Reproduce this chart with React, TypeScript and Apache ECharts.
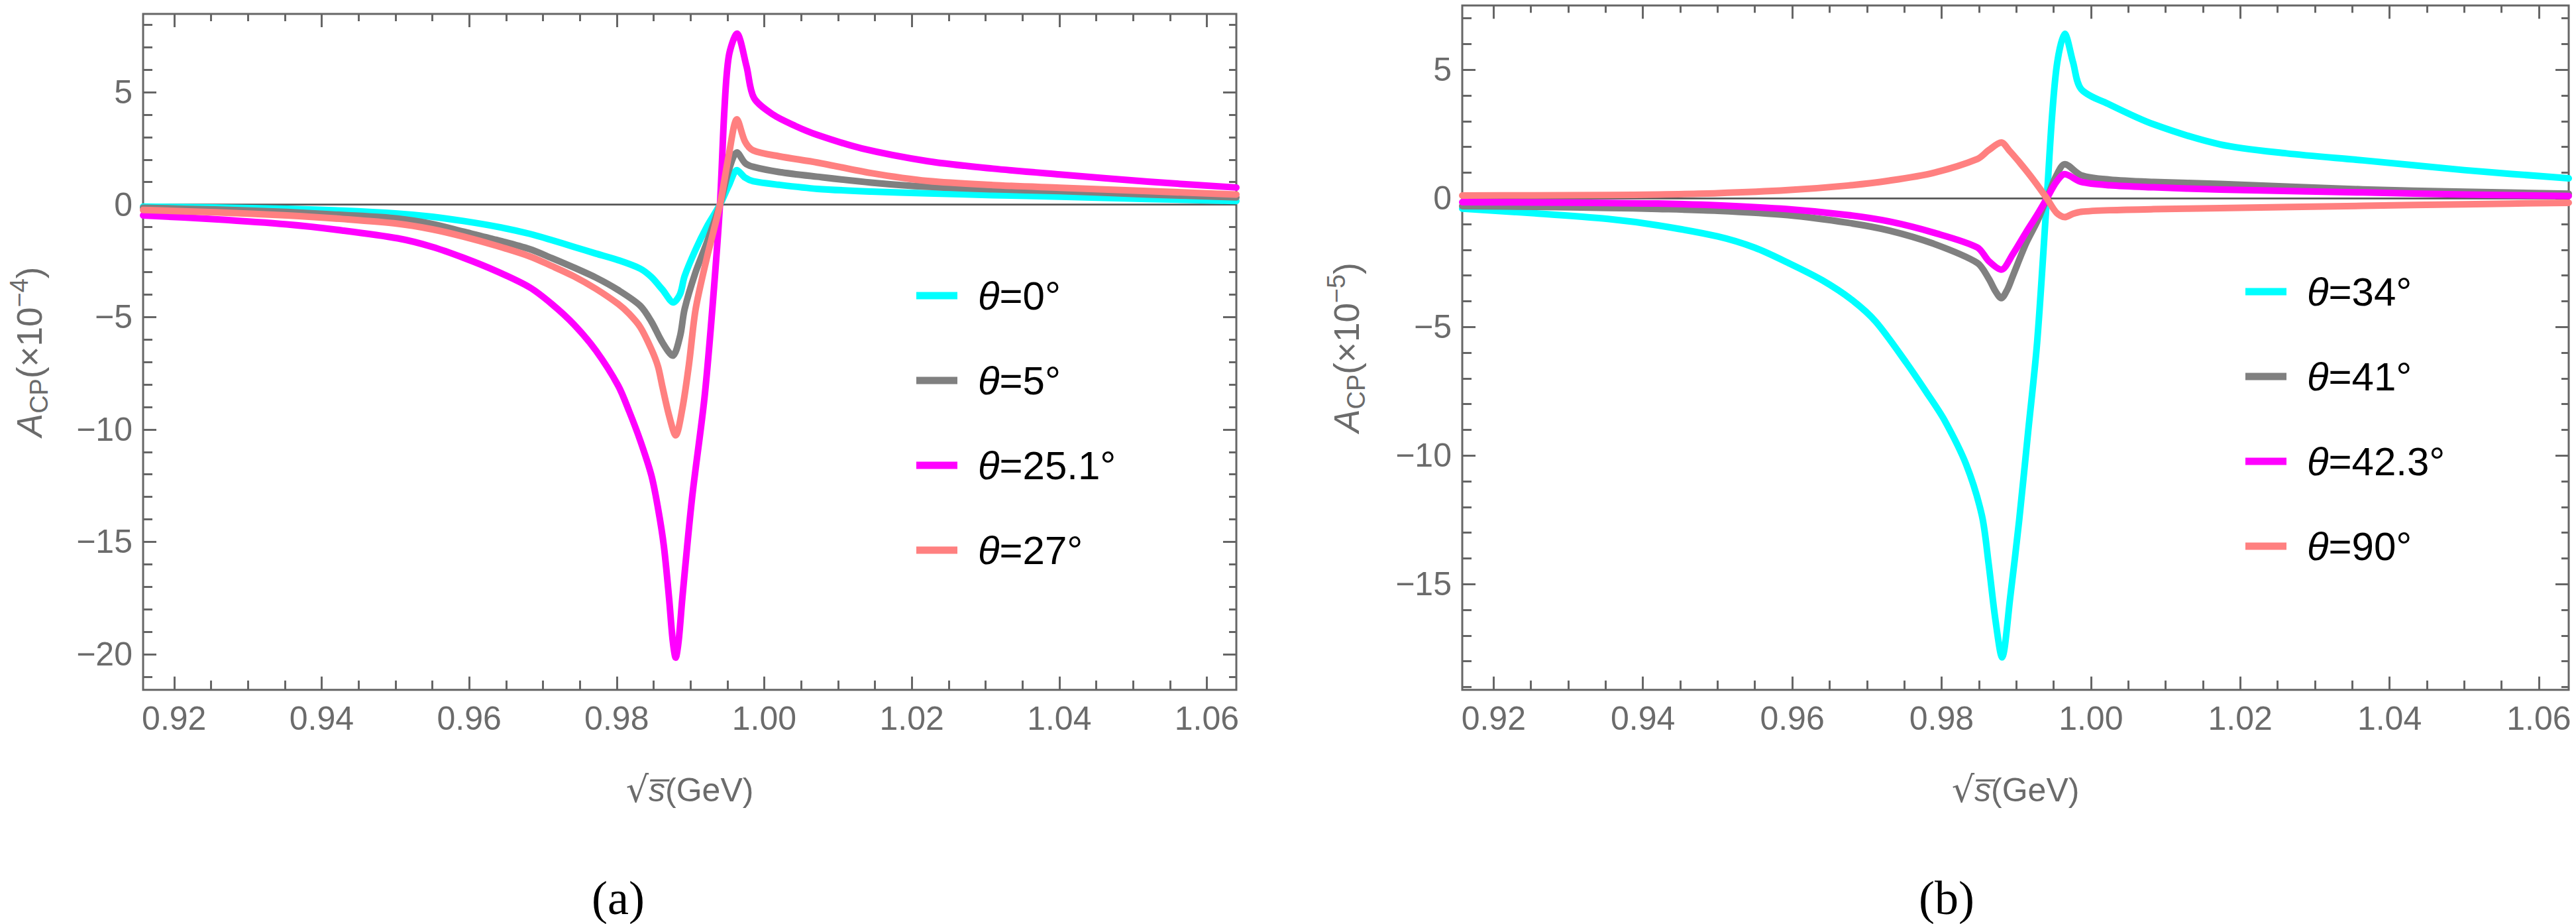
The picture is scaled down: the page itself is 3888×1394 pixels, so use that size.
import React, { useEffect, useRef } from "react";
import * as echarts from "echarts";

// ---------- axes ----------
const X_MIN = 0.9158;
const X_MAX = 1.064;
const X_MAJOR = [0.92, 0.94, 0.96, 0.98, 1.0, 1.02, 1.04, 1.06];
const X_MINOR_STEP = 0.005;

const YA_MIN = -21.58;
const YA_MAX = 8.48;
const YA_MAJOR = [-20, -15, -10, -5, 0, 5];
const YB_MIN = -19.11;
const YB_MAX = 7.5;
const YB_MAJOR = [-15, -10, -5, 0, 5];
const Y_MINOR_STEP = 1;

const COLORS = ["#00ffff", "#808080", "#ff00ff", "#ff8080"];
const NAMES_A = ["θ=0°", "θ=5°", "θ=25.1°", "θ=27°"];
const NAMES_B = ["θ=34°", "θ=41°", "θ=42.3°", "θ=90°"];

// ---------- panel (a): A_CP (x10^-4) ----------
const A0: number[][] = [
  [0.9158, -0.09], [0.9255, -0.13], [0.9353, -0.19], [0.9428, -0.27], [0.9503, -0.4],
  [0.955, -0.54], [0.9592, -0.73], [0.9637, -0.98], [0.9682, -1.3], [0.9712, -1.58],
  [0.9742, -1.88], [0.9772, -2.18], [0.9802, -2.47], [0.9832, -2.85], [0.9847, -3.22],
  [0.9862, -3.78], [0.9877, -4.35], [0.9886, -3.97], [0.9892, -3.19], [0.9907, -2.0],
  [0.9922, -1.0], [0.994, 0], [0.9952, 0.85], [0.9963, 1.53], [0.9974, 1.2],
  [0.9985, 1.04], [1.002, 0.88], [1.0072, 0.7], [1.0145, 0.58], [1.0222, 0.5],
  [1.031, 0.42], [1.0401, 0.35], [1.052, 0.25], [1.064, 0.16],
];
const A1: number[][] = [
  [0.9158, -0.14], [0.9255, -0.22], [0.9353, -0.33], [0.9428, -0.46], [0.9503, -0.62],
  [0.955, -0.86], [0.9592, -1.2], [0.9637, -1.57], [0.9682, -1.98], [0.9712, -2.38],
  [0.9742, -2.8], [0.9772, -3.25], [0.9802, -3.8], [0.9832, -4.5], [0.9847, -5.2],
  [0.9862, -6.13], [0.9876, -6.72], [0.9886, -5.84], [0.9892, -4.66], [0.9907, -3.0],
  [0.9922, -1.71], [0.994, 0], [0.9952, 1.53], [0.9963, 2.32], [0.9974, 1.85],
  [0.9985, 1.68], [1.002, 1.45], [1.0072, 1.24], [1.0145, 0.98], [1.0222, 0.79],
  [1.031, 0.68], [1.0401, 0.6], [1.052, 0.45], [1.064, 0.32],
];
const A2: number[][] = [
  [0.9158, -0.48], [0.9255, -0.65], [0.9353, -0.88], [0.9428, -1.15], [0.9503, -1.5],
  [0.955, -1.88], [0.9592, -2.36], [0.9637, -2.96], [0.9682, -3.68], [0.9712, -4.42],
  [0.9742, -5.33], [0.9772, -6.5], [0.9802, -8.05], [0.9817, -9.2], [0.9832, -10.5],
  [0.9847, -12.04], [0.9856, -13.5], [0.9864, -15.2], [0.9871, -17.5], [0.9876, -19.4],
  [0.988, -20.15], [0.9884, -19.4], [0.9889, -17.5], [0.9902, -13.1], [0.9919, -8.6],
  [0.993, -4.5], [0.994, 0], [0.9946, 4.2], [0.9952, 6.6], [0.9963, 7.6],
  [0.9976, 6.15], [0.9986, 4.75], [1.0012, 4.0], [1.0042, 3.5], [1.0072, 3.1],
  [1.0132, 2.5], [1.0222, 1.93], [1.031, 1.6], [1.0401, 1.34], [1.052, 1.02], [1.064, 0.76],
];
const A3: number[][] = [
  [0.9158, -0.24], [0.9255, -0.34], [0.9353, -0.48], [0.9428, -0.64], [0.9503, -0.85],
  [0.955, -1.1], [0.9592, -1.42], [0.9637, -1.83], [0.9682, -2.3], [0.9712, -2.73],
  [0.9742, -3.19], [0.9772, -3.75], [0.9802, -4.42], [0.9817, -4.86], [0.9832, -5.45],
  [0.9847, -6.43], [0.9856, -7.2], [0.9862, -8.1], [0.9871, -9.38], [0.988, -10.26],
  [0.9889, -9.08], [0.9898, -7.1], [0.9907, -4.66], [0.9922, -2.4], [0.994, 0],
  [0.9952, 2.2], [0.9963, 3.79], [0.9974, 2.8], [0.9985, 2.41], [1.002, 2.15],
  [1.0072, 1.87], [1.0145, 1.4], [1.0222, 1.05], [1.031, 0.87], [1.0401, 0.75],
  [1.052, 0.6], [1.064, 0.45],
];

// ---------- panel (b): A_CP (x10^-5) ----------
const B0: number[][] = [
  [0.9158, -0.4], [0.9255, -0.58], [0.9353, -0.8], [0.942, -1.05], [0.95, -1.48],
  [0.955, -1.92], [0.9594, -2.5], [0.964, -3.18], [0.968, -3.95], [0.9712, -4.8],
  [0.9753, -6.4], [0.978, -7.55], [0.9804, -8.63], [0.9833, -10.35], [0.9854, -12.33],
  [0.9863, -14.2], [0.9872, -16.36], [0.9881, -17.85], [0.9892, -15.5], [0.9904, -12.5],
  [0.9916, -9.06], [0.9928, -5.6], [0.9941, 0], [0.9948, 3.2], [0.9955, 5.3],
  [0.9965, 6.4], [0.9976, 5.3], [0.9987, 4.25], [1.0025, 3.65], [1.0084, 2.88],
  [1.0173, 2.1], [1.0262, 1.75], [1.0364, 1.48], [1.05, 1.1], [1.064, 0.78],
];
const B1: number[][] = [
  [0.9158, -0.3], [0.9255, -0.33], [0.9353, -0.37], [0.942, -0.41], [0.95, -0.48],
  [0.9594, -0.65], [0.9675, -0.95], [0.973, -1.25], [0.9789, -1.76], [0.9848, -2.51],
  [0.9863, -3.11], [0.9872, -3.6], [0.988, -3.88], [0.9888, -3.55], [0.9895, -3.05],
  [0.9913, -1.76], [0.9928, -0.9], [0.9941, 0], [0.9954, 0.9], [0.9965, 1.33],
  [0.9987, 0.9], [1.0025, 0.73], [1.0084, 0.64], [1.0173, 0.56], [1.0364, 0.35],
  [1.05, 0.26], [1.064, 0.18],
];
const B2: number[][] = [
  [0.9158, -0.15], [0.9255, -0.16], [0.9353, -0.18], [0.942, -0.2], [0.95, -0.27],
  [0.9594, -0.42], [0.9675, -0.65], [0.973, -0.9], [0.9789, -1.33], [0.9848, -1.91],
  [0.9863, -2.43], [0.988, -2.77], [0.9895, -2.19], [0.9913, -1.33], [0.9928, -0.64],
  [0.9941, 0], [0.9954, 0.65], [0.9965, 0.94], [0.9987, 0.64], [1.0025, 0.51],
  [1.0084, 0.43], [1.0173, 0.34], [1.0364, 0.23], [1.05, 0.15], [1.064, 0.09],
];
const B3: number[][] = [
  [0.9158, 0.11], [0.9255, 0.12], [0.9353, 0.13], [0.942, 0.15], [0.95, 0.2],
  [0.9594, 0.32], [0.9675, 0.5], [0.973, 0.69], [0.9789, 0.99], [0.9848, 1.53],
  [0.9863, 1.87], [0.988, 2.17], [0.9891, 1.85], [0.9907, 1.31], [0.9922, 0.76],
  [0.9941, 0], [0.9954, -0.56], [0.9965, -0.73], [0.9976, -0.6], [0.9987, -0.52],
  [1.0025, -0.46], [1.0084, -0.42], [1.0173, -0.38], [1.0364, -0.29], [1.05, -0.23],
  [1.064, -0.17],
];

const SERIES_A = [A0, A1, A2, A3];
const SERIES_B = [B0, B1, B2, B3];

// ---------- styling ----------
const FONT = '"Liberation Sans", Arial, sans-serif';
const FRAME = "#666666";
const LABEL = "#6b6b6b";

function minors(min: number, max: number, step: number, majors: number[]) {
  const out: number[] = [];
  const start = Math.ceil(min / step - 1e-9);
  const end = Math.floor(max / step + 1e-9);
  for (let k = start; k <= end; k++) {
    const v = +(k * step).toFixed(6);
    if (!majors.some((m) => Math.abs(m - v) < 1e-9)) out.push(v);
  }
  return out;
}

const fmtY = (v: number) => (v < 0 ? "\u2212" + Math.abs(v) : String(v));
const fmtX = (v: number) => v.toFixed(2);

const nameRich = {
  i: { fontStyle: "italic", fontSize: 53, lineHeight: 68, fontFamily: FONT, color: LABEL },
  n: { fontSize: 53, lineHeight: 68, fontFamily: FONT, color: LABEL },
  sub: { fontSize: 38, lineHeight: 44, verticalAlign: "bottom", fontFamily: FONT, color: LABEL },
  sup: { fontSize: 38, lineHeight: 44, verticalAlign: "top", fontFamily: FONT, color: LABEL },
  xi: { fontStyle: "italic", fontSize: 50, lineHeight: 64, fontFamily: FONT, color: LABEL },
  xn: { fontSize: 50, lineHeight: 64, fontFamily: FONT, color: LABEL },
  r: { fontSize: 54, lineHeight: 64, fontFamily: '"DejaVu Sans", sans-serif', color: LABEL },
};

function buildPanel(
  g: number,
  yMin: number,
  yMax: number,
  yMajor: number[],
  yName: string,
  yNameGap: number
) {
  const xMinor = minors(X_MIN, X_MAX, X_MINOR_STEP, X_MAJOR);
  const yMinor = minors(yMin, yMax, Y_MINOR_STEP, yMajor);
  const bx = {
    type: "value",
    gridIndex: g,
    min: X_MIN,
    max: X_MAX,
    splitLine: { show: false },
    axisLine: { show: false, onZero: false },
  };
  const by = {
    type: "value",
    gridIndex: g,
    min: yMin,
    max: yMax,
    splitLine: { show: false },
    axisLine: { show: false, onZero: false },
  };
  const tick = (len: number, vals: number[]) => ({
    show: true,
    inside: true,
    length: len,
    customValues: vals,
    lineStyle: { color: FRAME, width: 3 },
  });
  const noLabel = { show: false };
  const xAxes = [
    {
      ...bx,
      position: "bottom",
      axisTick: tick(20, X_MAJOR),
      axisLabel: {
        show: true,
        customValues: X_MAJOR,
        formatter: fmtX,
        fontSize: 50,
        fontFamily: FONT,
        color: LABEL,
        margin: 18,
      },
      name: "{r|\u221A}{xi|s\u0305}{xn|(GeV)}",
      nameLocation: "middle",
      nameGap: 119,
      nameTextStyle: { fontSize: 50, fontFamily: FONT, color: LABEL, rich: nameRich },
    },
    { ...bx, position: "bottom", axisTick: tick(14, xMinor), axisLabel: noLabel },
    { ...bx, position: "top", axisTick: tick(20, X_MAJOR), axisLabel: noLabel },
    { ...bx, position: "top", axisTick: tick(11, xMinor), axisLabel: noLabel },
  ];
  const yAxes = [
    {
      ...by,
      position: "left",
      axisTick: tick(20, yMajor),
      axisLabel: {
        show: true,
        customValues: yMajor,
        formatter: fmtY,
        fontSize: 50,
        fontFamily: FONT,
        color: LABEL,
        margin: 16,
      },
      name: yName,
      nameLocation: "middle",
      nameGap: yNameGap,
      nameTextStyle: { fontSize: 53, fontFamily: FONT, color: LABEL, rich: nameRich },
    },
    { ...by, position: "left", axisTick: tick(14, yMinor), axisLabel: noLabel },
    { ...by, position: "right", axisTick: tick(20, yMajor), axisLabel: noLabel },
    { ...by, position: "right", axisTick: tick(11, yMinor), axisLabel: noLabel },
  ];
  return { xAxes, yAxes };
}

function lineSeries(name: string, data: number[][], color: string, axisBase: number) {
  return {
    type: "line",
    name,
    data,
    xAxisIndex: axisBase,
    yAxisIndex: axisBase,
    showSymbol: false,
    symbol: "none",
    smooth: 0.3,
    color,
    lineStyle: { color, width: 10, cap: "round", join: "round" },
    itemStyle: { color },
    z: 3,
    silent: true,
  };
}

function zeroLine(axisBase: number) {
  return {
    type: "line",
    name: "zero",
    data: [
      [X_MIN, 0],
      [X_MAX, 0],
    ],
    xAxisIndex: axisBase,
    yAxisIndex: axisBase,
    showSymbol: false,
    symbol: "none",
    lineStyle: { color: "#555555", width: 2.7 },
    z: 2,
    silent: true,
  };
}

function legendFor(names: string[], left: number, top: number) {
  return {
    show: true,
    orient: "vertical",
    left,
    top,
    data: names,
    icon: "rect",
    itemWidth: 62,
    itemHeight: 11,
    itemGap: 58,
    selectedMode: false,
    formatter: (n: string) => n.replace("θ", "{it|θ}"),
    textStyle: {
      fontSize: 60,
      lineHeight: 70,
      fontFamily: FONT,
      color: "#000",
      padding: [0, 0, 0, 26],
      rich: {
        it: { fontSize: 60, lineHeight: 70, fontStyle: "italic", fontFamily: FONT, color: "#000" },
      },
    },
  };
}

export default function App() {
  const ref = useRef<HTMLDivElement>(null);
  useEffect(() => {
    if (!ref.current) return;
    const chart = echarts.init(ref.current, undefined, { renderer: "svg" });
    const pa = buildPanel(0, YA_MIN, YA_MAX, YA_MAJOR, "{i|A}{sub|CP}{n|(×10}{sup|\u22124}{n|)}", 138);
    const pb = buildPanel(1, YB_MIN, YB_MAX, YB_MAJOR, "{i|A}{sub|CP}{n|(×10}{sup|\u22125}{n|)}", 141);
    const option = {
      animation: false,
      backgroundColor: "#ffffff",
      grid: [
        {
          left: 216,
          top: 21,
          width: 1650,
          height: 1019.7,
          show: true,
          borderColor: FRAME,
          borderWidth: 3,
          backgroundColor: "transparent",
          containLabel: false,
          outerBoundsMode: "none",
        },
        {
          left: 2207,
          top: 8.3,
          width: 1670,
          height: 1032.4,
          show: true,
          borderColor: FRAME,
          borderWidth: 3,
          backgroundColor: "transparent",
          containLabel: false,
          outerBoundsMode: "none",
        },
      ],
      xAxis: [...pa.xAxes, ...pb.xAxes],
      yAxis: [...pa.yAxes, ...pb.yAxes],
      legend: [legendFor(NAMES_A, 1378, 406), legendFor(NAMES_B, 3384, 400)],
      series: [
        zeroLine(0),
        ...SERIES_A.map((d, i) => lineSeries(NAMES_A[i], d, COLORS[i], 0)),
        zeroLine(4),
        ...SERIES_B.map((d, i) => lineSeries(NAMES_B[i], d, COLORS[i], 4)),
      ],
      graphic: [
        {
          type: "text",
          x: 933,
          y: 1355,
          style: {
            text: "(a)",
            font: '72px "Liberation Serif", serif',
            fill: "#000",
            align: "center",
            verticalAlign: "middle",
          },
        },
        {
          type: "text",
          x: 2938,
          y: 1355,
          style: {
            text: "(b)",
            font: '72px "Liberation Serif", serif',
            fill: "#000",
            align: "center",
            verticalAlign: "middle",
          },
        },
      ],
    };
    chart.setOption(option as any);
    return () => chart.dispose();
  }, []);
  return (
    <div
      ref={ref}
      style={{ position: "absolute", left: 0, top: 0, width: 3888, height: 1394, background: "#fff" }}
    />
  );
}
